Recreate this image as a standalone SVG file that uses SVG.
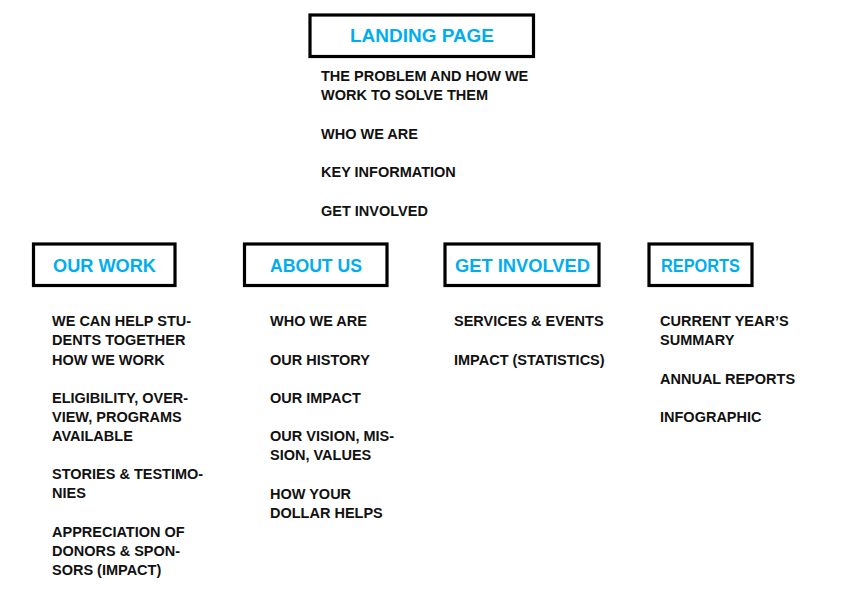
<svg xmlns="http://www.w3.org/2000/svg" width="843" height="596" viewBox="0 0 843 596">
<style>
.box{fill:#fff;stroke:#000;stroke-width:3.2}
.title{font-family:"Liberation Sans",Arial,sans-serif;font-weight:bold;font-size:19px;fill:#00AEEF}
.item{font-family:"Liberation Sans",Arial,sans-serif;font-weight:bold;font-size:14.5px;fill:#111}
</style>
<rect width="843" height="596" fill="#fff"/>
<g id="connectors"/>
<g id="landing-page">
<rect class="box" x="310" y="15" width="223.5" height="41.5"/>
<text class="title" x="350" y="42" textLength="144" lengthAdjust="spacingAndGlyphs">LANDING PAGE</text>
<text class="item" x="321" y="81">THE PROBLEM AND HOW WE</text>
<text class="item" x="321" y="100">WORK TO SOLVE THEM</text>
<text class="item" x="321" y="138.5">WHO WE ARE</text>
<text class="item" x="321" y="177">KEY INFORMATION</text>
<text class="item" x="321" y="215.5">GET INVOLVED</text>
</g>
<g id="our-work">
<rect class="box" x="33.5" y="244" width="141.5" height="41.5"/>
<text class="title" x="53" y="272" textLength="103" lengthAdjust="spacingAndGlyphs">OUR WORK</text>
<text class="item" x="52" y="326">WE CAN HELP STU-</text>
<text class="item" x="52" y="345">DENTS TOGETHER</text>
<text class="item" x="52" y="364.5">HOW WE WORK</text>
<text class="item" x="52" y="402.5">ELIGIBILITY, OVER-</text>
<text class="item" x="52" y="421.5">VIEW, PROGRAMS</text>
<text class="item" x="52" y="441">AVAILABLE</text>
<text class="item" x="52" y="479">STORIES &amp; TESTIMO-</text>
<text class="item" x="52" y="498">NIES</text>
<text class="item" x="52" y="537">APPRECIATION OF</text>
<text class="item" x="52" y="556">DONORS &amp; SPON-</text>
<text class="item" x="52" y="575">SORS (IMPACT)</text>
</g>
<g id="about-us">
<rect class="box" x="244.5" y="244" width="142.5" height="41.5"/>
<text class="title" x="270" y="272" textLength="92" lengthAdjust="spacingAndGlyphs">ABOUT US</text>
<text class="item" x="270" y="326">WHO WE ARE</text>
<text class="item" x="270" y="364.5">OUR HISTORY</text>
<text class="item" x="270" y="402.5">OUR IMPACT</text>
<text class="item" x="270" y="441">OUR VISION, MIS-</text>
<text class="item" x="270" y="460">SION, VALUES</text>
<text class="item" x="270" y="498.5">HOW YOUR</text>
<text class="item" x="270" y="518">DOLLAR HELPS</text>
</g>
<g id="get-involved">
<rect class="box" x="445" y="244" width="154" height="41.5"/>
<text class="title" x="455" y="272" textLength="135" lengthAdjust="spacingAndGlyphs">GET INVOLVED</text>
<text class="item" x="454" y="326">SERVICES &amp; EVENTS</text>
<text class="item" x="454" y="364.5">IMPACT (STATISTICS)</text>
</g>
<g id="reports">
<rect class="box" x="649" y="244" width="103" height="41.5"/>
<text class="title" x="661" y="272" textLength="79" lengthAdjust="spacingAndGlyphs">REPORTS</text>
<text class="item" x="660" y="326">CURRENT YEAR’S</text>
<text class="item" x="660" y="345">SUMMARY</text>
<text class="item" x="660" y="383.5">ANNUAL REPORTS</text>
<text class="item" x="660" y="422">INFOGRAPHIC</text>
</g>
</svg>
